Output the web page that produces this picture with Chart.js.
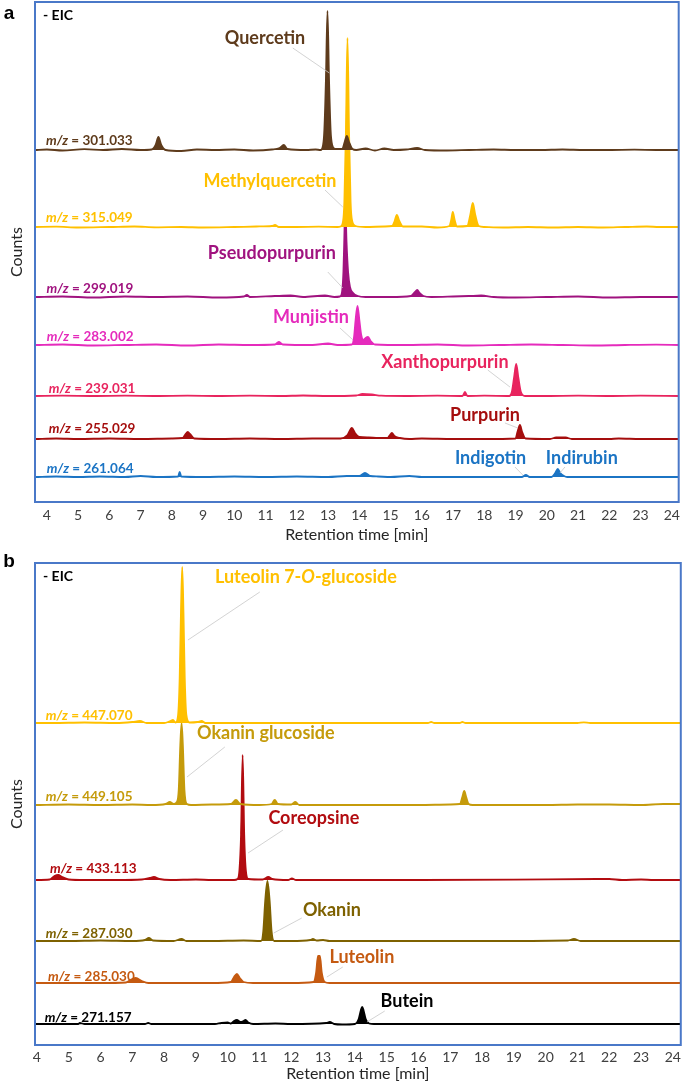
<!DOCTYPE html>
<html>
<head>
<meta charset="utf-8">
<script src="https://cdn.jsdelivr.net/npm/chart.js@4.4.1/dist/chart.umd.min.js"></script>
<style>
  html, body { margin: 0; padding: 0; background: #fff; }
  #chartA { position: absolute; left: 0; top: 0; }
  #chartB { position: absolute; left: 0; top: 548px; }
</style>
</head>
<body>
<canvas id="chartA" width="685" height="545"></canvas>
<canvas id="chartB" width="685" height="535"></canvas>
<script>
const FONT = 'Lato, "Open Sans", sans-serif';
const timeTicks = [4, 5, 6, 7, 8, 9, 10, 11, 12, 13, 14, 15, 16, 17, 18, 19, 20, 21, 22, 23, 24];

// ===== Panel a: EIC traces [retention time (min), counts (a.u.)] =====
const mzA = ['301.033', '315.049', '299.019', '283.002', '239.031', '255.029', '261.064'];
const colorsA = ['#5E3B1C', '#FFC000', '#A0137F', '#E52BBC', '#E8245E', '#A50E0E', '#1B74C4'];
const offsetsA = [352, 275, 205, 157, 106, 63, 25];

const eic301 = [[3.62,0],[4.0,0.5],[4.5,-0.5],[5.2,0.8],[5.8,0],[6.4,1],[7.0,0],[7.35,0.5],[7.48,5],[7.57,13],[7.66,5],[7.8,0],[8.3,-1],[8.8,0.5],[9.4,0],[10.0,0.5],[10.6,-0.5],[11.2,0.5],[11.45,2],[11.58,5],[11.7,1],[12.3,0],[12.6,0.5],[12.76,0],[12.84,5],[12.88,20],[12.93,70],[12.98,139],[13.03,70],[13.08,20],[13.13,5],[13.22,1],[13.45,1],[13.53,8],[13.6,14],[13.67,8],[13.78,1],[13.9,0],[14.2,1.5],[14.5,-0.5],[14.8,1.5],[15.1,0],[15.5,0.5],[15.85,2],[16.1,0],[16.8,-0.5],[17.5,0],[18.3,0.5],[19.0,0],[19.8,0],[20.5,0.5],[21.2,0],[22.0,0],[22.8,0.3],[23.5,0],[24.22,0]];
const eic315 = [[3.62,0],[4.3,0.3],[5.0,-0.5],[6.0,0],[6.8,0.5],[7.5,-0.3],[8.3,0],[9.0,-0.5],[10.0,0],[10.7,0.5],[11.2,1],[11.3,2],[11.42,0],[12.0,0],[12.7,0.3],[13.3,0],[13.4,0.5],[13.48,6],[13.52,25],[13.57,95],[13.62,189],[13.67,95],[13.72,25],[13.77,6],[13.88,1],[14.2,0],[14.8,0.5],[15.05,1],[15.13,6],[15.2,12],[15.28,6],[15.4,0.5],[16.0,0.5],[16.5,-0.5],[16.88,1],[16.94,7],[16.99,15],[17.05,7],[17.12,0.5],[17.45,1],[17.55,12],[17.63,24],[17.71,12],[17.82,1],[18.0,0],[18.6,-0.5],[19.4,0],[20.2,-0.5],[21.0,0],[21.8,-0.5],[22.5,0],[23.2,0.5],[23.6,0],[24.22,0]];
const eic299 = [[3.62,0],[4.5,0.5],[5.5,-0.5],[6.5,0.5],[7.5,0],[8.5,0.5],[9.5,-0.5],[10.3,0.5],[10.4,2],[10.5,0],[11.3,1],[11.8,1.5],[12.2,0],[12.9,1.5],[13.2,0],[13.38,0.5],[13.45,6],[13.49,25],[13.52,60],[13.55,94],[13.59,55],[13.64,25],[13.7,10],[13.8,4],[13.95,1],[14.2,0],[15.0,0],[15.65,1],[15.78,5],[15.85,7],[15.93,4],[16.05,1],[16.3,0],[17.0,0.5],[17.5,1],[17.9,1.5],[18.3,0],[19.0,-0.5],[20.0,0],[21.0,0.5],[22.0,-0.5],[23.0,0],[24.22,0]];
const eic283 = [[3.62,0],[4.5,0.5],[5.5,-0.5],[6.5,0],[7.5,0.5],[8.5,-0.5],[9.5,0.5],[10.5,0],[11.3,0.5],[11.42,3],[11.55,0.5],[12.5,0],[13.0,1.5],[13.3,0],[13.76,0.5],[13.83,8],[13.88,25],[13.94,39],[14.0,25],[14.06,10],[14.13,5],[14.2,7],[14.28,8],[14.36,4],[14.5,0.5],[15.5,0],[16.5,0.5],[17.5,-0.5],[18.5,0],[19.5,0.5],[20.5,0],[21.5,-0.5],[22.5,0],[23.5,0.3],[24.22,0]];
const eic239 = [[3.62,0],[4.5,0.3],[5.5,0],[6.5,0.3],[7.5,0],[8.5,0.3],[9.5,0],[10.5,0.3],[11.5,0],[12.2,0.5],[13.0,0],[13.9,0.5],[14.1,2],[14.4,1.5],[14.7,0.3],[15.5,0],[16.5,0.3],[17.3,0],[17.38,4],[17.46,0],[18.0,0.3],[18.8,0],[18.88,4],[18.95,18],[19.02,32],[19.09,18],[19.17,4],[19.3,0],[20.0,0],[21.0,0.3],[22.0,0],[23.0,0.3],[24.22,0]];
const eic255 = [[3.62,0],[4.3,0.5],[5.0,0],[6.0,0.5],[7.0,0],[8.0,0.5],[8.35,1],[8.44,5],[8.51,7],[8.58,5],[8.72,0.5],[9.5,0],[10.5,0.5],[11.5,0],[12.5,0.5],[13.4,0.5],[13.62,4],[13.76,11],[13.86,6],[14.0,2],[14.3,1.5],[14.6,1],[14.9,1],[14.98,4],[15.04,6],[15.12,3],[15.3,1],[15.6,0],[16.0,0.5],[17.0,0],[18.0,0],[19.0,0.5],[19.06,7],[19.14,14],[19.21,7],[19.32,0.5],[20.1,0],[20.3,1.5],[20.6,1.5],[20.8,0],[22.0,0],[22.3,0.5],[23.0,0],[24.22,0]];
const eic261 = [[3.62,0],[4.3,0.5],[5.0,0],[5.7,0.5],[6.5,0],[7.0,1],[7.5,0],[8.2,0.5],[8.25,5],[8.3,0.5],[9.0,0],[10.0,0.5],[11.0,0],[12.0,0.5],[13.0,0],[13.6,1],[14.0,1],[14.18,4],[14.35,1],[14.6,0.5],[15.0,0],[15.6,1],[16.0,0],[17.0,0],[18.0,0],[19.2,0],[19.33,2],[19.45,0],[20.15,0],[20.27,4],[20.35,8],[20.43,4],[20.55,1],[20.65,0],[22.0,0],[23.0,0],[24.22,0]];

// ===== Panel b =====
const mzB = ['447.070', '449.105', '433.113', '287.030', '285.030', '271.157'];
const colorsB = ['#FFC000', '#C59B0B', '#B20C10', '#7E6100', '#C55A11', '#000000'];
const offsetsB = [322, 240, 165, 104, 62, 21];

const eic447 = [[3.94,0],[4.5,0],[5.5,0.5],[6.5,0],[7.0,1],[7.24,2],[7.45,0],[8.0,0],[8.2,2],[8.28,3],[8.36,0.5],[8.44,8],[8.49,45],[8.53,110],[8.57,156],[8.61,110],[8.65,45],[8.7,8],[8.8,0.5],[9.05,1],[9.18,2],[9.3,0],[10.0,0],[12.0,0],[14.0,0],[16.3,0],[16.4,1],[16.5,0],[17.3,0],[17.38,1],[17.48,0],[21.0,0],[21.2,0.7],[21.4,0],[24.25,0]];
const eic449 = [[3.94,0],[5.0,0.5],[6.0,0],[7.0,0.5],[7.6,0],[8.05,1],[8.18,3],[8.3,1],[8.4,3],[8.46,15],[8.51,60],[8.55,82],[8.59,60],[8.64,15],[8.72,1],[8.85,0],[9.5,0.5],[10.1,1],[10.26,5],[10.4,1],[11.0,0],[11.38,1],[11.48,5],[11.58,1],[12.0,0.5],[12.13,3],[12.25,0],[13.0,0],[14.0,0],[15.0,0],[16.0,0],[17.0,0.5],[17.3,1],[17.38,8],[17.44,14],[17.5,8],[17.58,1],[17.7,0],[19.0,0],[20.0,0],[21.0,0.5],[22.0,0.5],[23.0,0],[23.7,1],[24.25,1]];
const eic433 = [[3.94,0],[4.4,0.5],[4.55,4],[4.67,5],[4.8,3],[5.0,0.5],[5.5,0],[6.5,0],[7.3,0.5],[7.55,2],[7.68,3],[7.85,1],[8.2,0],[9.0,0.5],[9.5,0],[10.2,0],[10.31,1],[10.37,10],[10.42,45],[10.47,125],[10.52,45],[10.57,10],[10.65,1],[11.1,0.5],[11.28,3],[11.4,1],[11.9,0],[12.02,1.5],[12.15,0],[13.0,0],[16.0,0],[19.0,0.3],[21.6,1],[22.0,1],[22.4,0],[23.0,0.5],[23.4,0],[24.25,0]];
const eic287 = [[3.94,0],[5.0,0],[6.0,0.5],[7.0,0],[7.4,1],[7.52,3],[7.65,0.5],[8.3,0],[8.55,2],[8.7,0],[9.5,0],[10.5,0.5],[11.05,0],[11.12,10],[11.18,40],[11.25,60],[11.32,40],[11.38,10],[11.46,0],[12.0,0],[12.6,1],[12.68,2],[12.8,0.5],[13.0,1],[13.2,0],[15.0,0],[18.0,0],[20.7,0.5],[20.89,2],[21.1,0],[24.25,0]];
const eic285 = [[3.94,0],[5.0,0],[6.0,0],[6.8,0.5],[7.0,4],[7.11,5],[7.3,2],[7.5,0],[8.5,0],[9.5,0],[10.1,1],[10.2,6],[10.29,9],[10.38,5],[10.5,1],[10.8,0],[12.0,0],[12.7,1],[12.78,10],[12.84,27],[12.9,27],[12.96,10],[13.05,1],[13.2,0],[15.0,0],[24.25,0]];
const eic271 = [[3.94,0],[5.3,0],[5.35,1],[5.5,0],[7.4,0],[7.5,1],[7.6,0],[9.6,0],[9.8,1],[10.0,1.5],[10.1,0.5],[10.2,3],[10.29,4],[10.4,2],[10.5,3],[10.56,4],[10.65,1.5],[10.8,0],[11.5,0.5],[12.0,0],[13.1,1],[13.21,2],[13.35,0],[13.6,-0.5],[14.0,0],[14.12,5],[14.19,14],[14.23,17],[14.27,14],[14.34,5],[14.45,0.5],[14.6,0],[24.25,0]];

// compound labels: text centre and leader line in (time, counts)
const namesA = [
  { text: 'Quercetin', trace: 0, t: 10.98, c: 464, line: [11.87, 454, 13.04, 429] },
  { text: 'Methylquercetin', trace: 1, t: 11.14, c: 321, line: [12.9, 312, 13.47, 295] },
  { text: 'Pseudopurpurin', trace: 2, t: 11.2, c: 249, line: [12.99, 230, 13.47, 214] },
  { text: 'Munjistin', trace: 3, t: 12.45, c: 185, line: [13.38, 174, 13.8, 162] },
  { text: 'Xanthopurpurin', trace: 4, t: 16.74, c: 140, line: [18.11, 132, 18.82, 115] },
  { text: 'Purpurin', trace: 5, t: 18.02, c: 87, line: [18.66, 79, 19.07, 74] },
  { text: 'Indigotin', trace: 6, t: 18.2, c: 44, line: [18.98, 35, 19.23, 27] },
  { text: 'Indirubin', trace: 6, t: 21.12, c: 44, line: [20.58, 35, 20.42, 29] },
];
const namesB = [
  { text: 'Luteolin 7-_O_-glucoside', trace: 0, t: 12.46, c: 468, line: [11.01, 453, 8.75, 405] },
  { text: 'Okanin glucoside', trace: 1, t: 11.2, c: 312, line: [9.91, 298, 8.72, 268] },
  { text: 'Coreopsine', trace: 2, t: 12.71, c: 227, line: [11.74, 215, 10.64, 192] },
  { text: 'Okanin', trace: 3, t: 13.28, c: 135, line: [12.33, 127, 11.45, 112] },
  { text: 'Luteolin', trace: 4, t: 14.22, c: 88, line: [13.62, 78, 13.12, 68] },
  { text: 'Butein', trace: 5, t: 15.64, c: 44, line: [14.94, 34, 14.38, 23] },
];
// m/z label anchors (left, middle)
const mzPosA = [[3.97, 361], [3.97, 284], [3.99, 213], [4.0, 165], [4.06, 113], [4.06, 73], [4.0, 33]];
const mzPosB = [[4.28, 329], [4.28, 248], [4.41, 176], [4.28, 111], [4.35, 68], [4.25, 27]];

// draw text where _..._ parts are italic
function drawRich(ctx, str, x, y, size, color, align) {
  const parts = str.split('_').map((s, i) => ({ s, it: i % 2 === 1 }));
  const fontOf = p => (p.it ? 'italic ' : '') + 'bold ' + size + 'px ' + FONT;
  let w = 0;
  parts.forEach(p => { ctx.font = fontOf(p); p.w = ctx.measureText(p.s).width; w += p.w; });
  let cx = align === 'center' ? x - w / 2 : x;
  ctx.fillStyle = color;
  ctx.textAlign = 'left';
  ctx.textBaseline = 'middle';
  parts.forEach(p => { ctx.font = fontOf(p); ctx.fillText(p.s, cx, y); cx += p.w; });
}

function makeAnnotator(p) {
  return {
    id: 'annotate',
    afterDatasetsDraw(chart) {
      const { ctx, chartArea: a, scales: { x, y } } = chart;
      ctx.save();
      // leader lines
      ctx.strokeStyle = '#C8C8C8';
      ctx.lineWidth = 0.8;
      p.names.forEach(n => {
        const [t1, c1, t2, c2] = n.line;
        ctx.beginPath();
        ctx.moveTo(x.getPixelForValue(t1), y.getPixelForValue(c1));
        ctx.lineTo(x.getPixelForValue(t2), y.getPixelForValue(c2));
        ctx.stroke();
      });
      p.names.forEach(n => {
        drawRich(ctx, n.text, x.getPixelForValue(n.t), y.getPixelForValue(n.c), 18, p.colors[n.trace], 'center');
      });
      p.mzPos.forEach(([t, c], i) => {
        drawRich(ctx, '_m/z_ = ' + p.mz[i], x.getPixelForValue(t), y.getPixelForValue(c), 13.5, p.colors[i], 'left');
      });
      drawRich(ctx, '- EIC', a.left + 8, a.top + 13, 14, '#000', 'left');
      ctx.font = 'bold 19px "Liberation Sans", Arial, sans-serif';
      ctx.fillStyle = '#000';
      ctx.textAlign = 'center';
      ctx.textBaseline = 'middle';
      ctx.fillText(p.letter, 9, 14);
      // plot frame
      ctx.strokeStyle = '#4A78C8';
      ctx.lineWidth = 2;
      ctx.strokeRect(a.left, a.top, a.right - a.left, a.bottom - a.top);
      ctx.restore();
    }
  };
}

function buildChart(id, p) {
  const datasets = p.traces.map((tr, i) => ({
    label: 'm/z = ' + p.mz[i],
    data: tr.map(([t, c]) => ({ x: t, y: c + p.offsets[i] })),
    borderColor: p.colors[i],
    backgroundColor: p.colors[i],
    borderWidth: 1.8,
    pointRadius: 0,
    cubicInterpolationMode: 'monotone',
    fill: { value: p.offsets[i] },
  }));
  return new Chart(document.getElementById(id), {
    type: 'line',
    data: { datasets },
    options: {
      responsive: false,
      animation: false,
      layout: { padding: p.padding },
      plugins: { legend: { display: false }, tooltip: { enabled: false } },
      scales: {
        x: {
          type: 'linear', min: p.xMin, max: p.xMax,
          afterBuildTicks: s => { s.ticks = timeTicks.map(v => ({ value: v })); },
          afterFit: s => { s.height = p.xAxisHeight; },
          grid: { display: false, drawTicks: false },
          border: { display: false },
          ticks: { padding: p.tickPad, autoSkip: false, maxRotation: 0, color: '#404040', font: { family: FONT, size: 14 } },
          title: { display: true, text: 'Retention time [min]', color: '#262626', font: { family: FONT, size: 16 }, padding: { top: 0, bottom: p.titlePad } },
        },
        y: {
          min: 0, max: p.yMax,
          afterFit: s => { s.width = 35; },
          grid: { display: false },
          border: { display: false },
          ticks: { display: false },
          title: { display: true, text: 'Counts', color: '#262626', font: { family: FONT, size: 16 }, padding: { top: 7, bottom: 0 } },
        },
      },
    },
    plugins: [makeAnnotator(p)],
  });
}

buildChart('chartA', {
  letter: 'a', traces: [eic301, eic315, eic299, eic283, eic239, eic255, eic261],
  mz: mzA, colors: colorsA, offsets: offsetsA, names: namesA, mzPos: mzPosA,
  xMin: 3.62, xMax: 24.22, yMax: 500,
  padding: { top: 2, right: 6, left: 0, bottom: 0 }, xAxisHeight: 43, tickPad: 5, titlePad: 1,
});
buildChart('chartB', {
  letter: 'b', traces: [eic447, eic449, eic433, eic287, eic285, eic271],
  mz: mzB, colors: colorsB, offsets: offsetsB, names: namesB, mzPos: mzPosB,
  xMin: 3.94, xMax: 24.25, yMax: 482,
  padding: { top: 15, right: 4, left: 0, bottom: 0 }, xAxisHeight: 38, tickPad: 4, titlePad: 0,
});
</script>
</body>
</html>
